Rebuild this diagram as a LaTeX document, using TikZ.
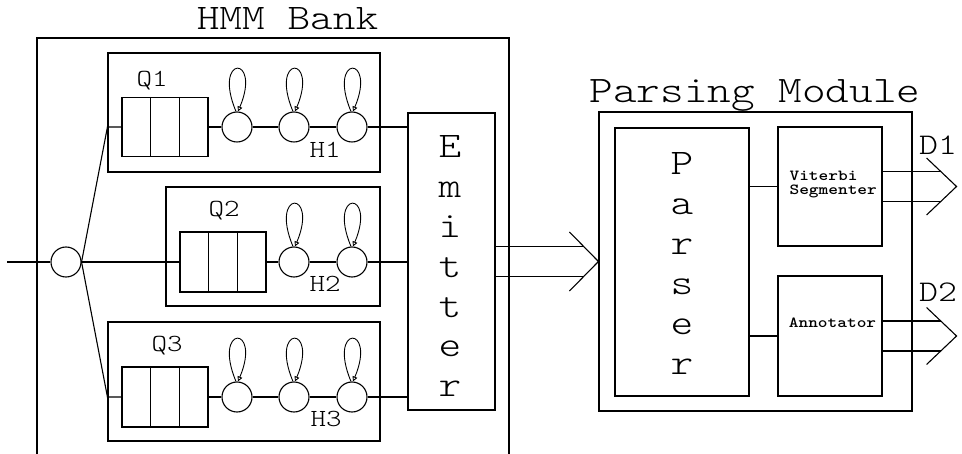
\documentclass[tikz,border=0pt]{standalone}
\usepackage{fontspec}
\usetikzlibrary{arrows.meta,calc}
\newfontfamily\cmono{lmmonolt10-regular.otf}[FakeStretch=1.2]
\newfontfamily\cmonob{lmmonolt10-bold.otf}[FakeStretch=1.2]
\newcommand\cf[1]{\cmono\fontsize{#1}{#1}\selectfont}
\newcommand\cfb[1]{\cmonob\fontsize{#1}{#1}\selectfont}
\begin{document}
\begin{tikzpicture}[x=1pt,y=-1pt,line width=1.1pt,
  bx/.style={draw,rectangle,inner sep=0pt},
  st/.style={draw,circle,inner sep=0pt,minimum size=30pt},
  lbl/.style={inner sep=0pt,anchor=base},
  loopy/.style={-{Triangle[open,length=5pt,width=5pt]},line width=0.9pt}]
\useasboundingbox (0,0) rectangle (962,454);
% HMM bank frame (open at bottom)
\draw (37,454) -- (37,38) -- (509,38) -- (509,454);
\node[lbl,font=\cf{36}] (hmmt) at (287.5,30) {HMM Bank};
% HMM boxes
\node[bx,minimum width=272pt,minimum height=119pt] (h1) at (244,112.5) {};
\node[bx,minimum width=214pt,minimum height=119pt] (h2) at (273,246.5) {};
\node[bx,minimum width=272pt,minimum height=119pt] (h3) at (244,381.5) {};
% queues
\node[bx,minimum width=86pt,minimum height=59pt] (q1) at (165,127) {};
\node[bx,minimum width=86pt,minimum height=60pt] (q2) at (223,262) {};
\node[bx,minimum width=86pt,minimum height=60pt] (q3) at (165,397) {};
\foreach \q in {q1,q2,q3}{
  \draw ($(\q.north west)!1/3!(\q.north east)$) -- ($(\q.south west)!1/3!(\q.south east)$);
  \draw ($(\q.north west)!2/3!(\q.north east)$) -- ($(\q.south west)!2/3!(\q.south east)$);
}
% states
\node[st] (c11) at (237,127) {};
\node[st] (c12) at (294,127) {};
\node[st] (c13) at (352,127) {};
\node[st] (c22) at (294,262) {};
\node[st] (c23) at (352,262) {};
\node[st] (c31) at (237,397) {};
\node[st] (c32) at (294,397) {};
\node[st] (c33) at (352,397) {};
\foreach \c in {c11,c12,c13,c22,c23,c31,c32,c33}
  \draw[loopy] ($(\c.north)+(-1,0)$) .. controls +(-24,-57) and +(24,-57) .. ($(\c.north)+(1,0)$);
% labels
\node[lbl,font=\cf{24.6}] (lq1) at (152,87) {Q1};
\node[lbl,font=\cf{24.6}] (lq2) at (224,217) {Q2};
\node[lbl,font=\cf{24.6}] (lq3) at (167,352) {Q3};
\node[lbl,font=\cf{24.6}] (lh1) at (325,158) {H1};
\node[lbl,font=\cf{24.6}] (lh2) at (325,292) {H2};
\node[lbl,font=\cf{24.6}] (lh3) at (326,427) {H3};
% emitter
\node[bx,minimum width=87pt,minimum height=297pt] (em) at (451.5,261.5) {};
\foreach \ch [count=\i] in {E,m,i,t,t,e,r}
  \node[lbl,font=\cf{36}] (emt\i) at (450,{158+39.8*(\i-1)}) {\ch};
% splitter
\node[st] (sp) at (66,262) {};
\coordinate (in) at (7,262);
\draw (in) -- (sp);
\draw (sp.east) -- (q2.west);
\draw (sp.east) -- (h1.west |- q1.west) -- (q1.west);
\draw (sp.east) -- (h3.west |- q3.west) -- (q3.west);
\draw (q1.east) -- (c11) -- (c12) -- (c13) -- (em.west |- c13);
\draw (q2.east) -- (c22) -- (c23) -- (em.west |- c23);
\draw (q3.east) -- (c31) -- (c32) -- (c33) -- (em.west |- c33);
% parsing module
\node[bx,minimum width=313pt,minimum height=299pt] (pm) at (755.5,261.5) {};
\node[lbl,font=\cf{37.5}] (pmt) at (755,103) {Parsing Module};
\node[bx,minimum width=134pt,minimum height=268pt] (pr) at (682,262) {};
\foreach \ch [count=\i] in {P,a,r,s,e,r}
  \node[lbl,font=\cf{36}] (prt\i) at (682,{175+40*(\i-1)}) {\ch};
\node[bx,minimum width=104pt,minimum height=119pt] (vit) at (830,186.5) {};
\node[lbl,anchor=base west,font=\cfb{15.4}] (vt1) at (789,181) {Viterbi};
\node[lbl,anchor=base west,font=\cfb{15.4}] (vt2) at (789,195) {Segmenter};
\node[bx,minimum width=104pt,minimum height=120pt] (an) at (830,336) {};
\node[lbl,font=\cfb{15.4}] (ant) at (832.5,328) {Annotator};
\draw (pr.east |- vit.west) -- (vit.west);
\draw (pr.east |- an.west) -- (an.west);
% emitter -> parsing module
\coordinate (pa) at (pm.west);
\draw ($(pa)+(-29,-29.5)$) -- (pa) -- ($(pa)+(-29,29.5)$);
\draw ($(em.east)+(0,-15)$) -- ($(pa)+(-14.7,-15)$);
\draw ($(em.east)+(0,15)$) -- ($(pa)+(-14.7,15)$);
% outputs
\coordinate (d1a) at ($(vit.east)+(74,0)$);
\draw ($(d1a)+(-30,-28.5)$) -- (d1a) -- ($(d1a)+(-30,28.5)$);
\draw ($(vit.east)+(0,-15)$) -- ($(d1a)+(-15.8,-15)$);
\draw ($(vit.east)+(0,15)$) -- ($(d1a)+(-15.8,15)$);
\node[lbl,font=\cf{30}] (d1) at (938,155) {D1};
\coordinate (d2a) at ($(an.east)+(74,0)$);
\draw ($(d2a)+(-30,-28.5)$) -- (d2a) -- ($(d2a)+(-30,28.5)$);
\draw ($(an.east)+(0,-15)$) -- ($(d2a)+(-15.8,-15)$);
\draw ($(an.east)+(0,15)$) -- ($(d2a)+(-15.8,15)$);
\node[lbl,font=\cf{30}] (d2) at (938,302) {D2};
\end{tikzpicture}
\end{document}
